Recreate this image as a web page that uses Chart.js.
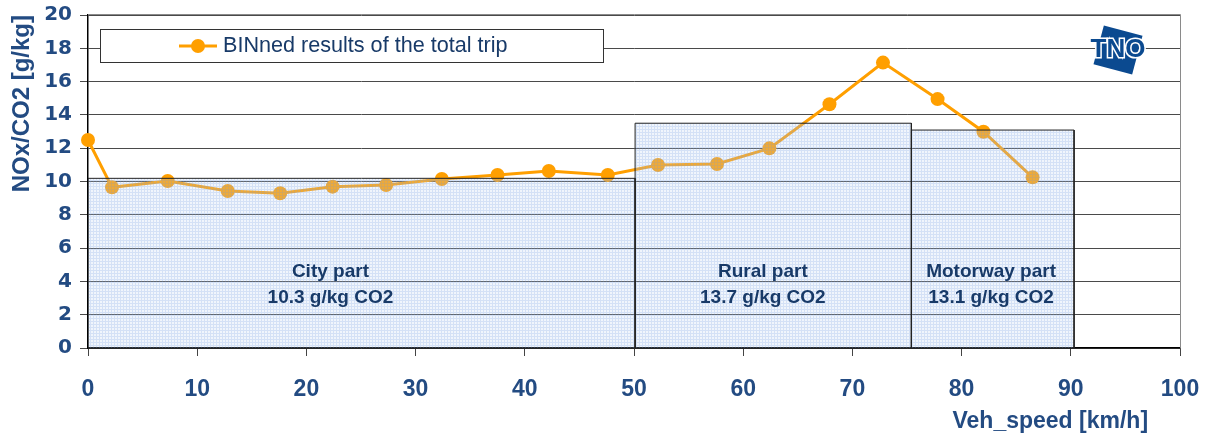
<!DOCTYPE html>
<html>
<head>
<meta charset="utf-8">
<script src="https://cdn.jsdelivr.net/npm/chart.js@4"></script>
<style>
  html, body { margin: 0; padding: 0; background: #fff; }
  #wrap { width: 1210px; height: 439px; }
</style>
</head>
<body>
<div id="wrap"><canvas id="chart" width="1210" height="439"></canvas></div>
<script>
// binned results of the total trip
const speeds = [0, 2.2, 7.3, 12.8, 17.6, 22.4, 27.3, 32.4, 37.5, 42.2, 47.6, 52.2, 57.6, 62.4, 67.9, 72.8, 77.8, 82.0, 86.5];
const noxPerCo2 = [12.49, 9.65, 10.03, 9.43, 9.29, 9.69, 9.79, 10.15, 10.39, 10.63, 10.39, 10.99, 11.05, 11.99, 14.64, 17.14, 14.95, 12.99, 10.25];

// trip parts (city / rural / motorway)
const partNames = ['City part', 'Rural part', 'Motorway part'];
const partLabels = ['10.3 g/kg CO2', '13.7 g/kg CO2', '13.1 g/kg CO2'];
const partStart = [0, 50.1, 75.4];
const partEnd = [50.1, 75.4, 90.3];
const partHeight = [10.19, 13.5, 13.09];

const textBlue = '#234b82';
const labelBlue = '#183a68';
const orange = '#ff9f00';

const canvas = document.getElementById('chart');
const ctx = canvas.getContext('2d');

// light blue grid fill for the part blocks
function makeGridPattern() {
    const c = document.createElement('canvas');
    c.width = 3; c.height = 3;
    const g = c.getContext('2d');
    g.fillStyle = 'rgba(185,208,242,0.22)';
    g.fillRect(0, 0, 3, 3);
    g.fillStyle = 'rgba(110,155,225,0.22)';
    g.fillRect(0, 0, 3, 1);
    g.fillRect(0, 1, 1, 2);
    return ctx.createPattern(c, 'repeat');
}
const gridFill = makeGridPattern();

const partDatasets = partNames.map((name, i) => ({
    type: 'line',
    label: name,
    data: [
        { x: partStart[i], y: 0 },
        { x: partStart[i], y: partHeight[i] },
        { x: partEnd[i], y: partHeight[i] },
        { x: partEnd[i], y: 0 }
    ],
    fill: 'origin',
    backgroundColor: gridFill,
    borderColor: '#222',
    borderWidth: 1,
    pointRadius: 0,
    tension: 0,
    order: 0
}));

// frame, legend, logo and part labels
const decorations = {
    id: 'decorations',
    beforeDatasetsDraw(chart) {
        const { ctx, chartArea } = chart;
        ctx.save();
        ctx.strokeStyle = '#8a8a8a';
        ctx.lineWidth = 1;
        ctx.beginPath();
        ctx.moveTo(chartArea.left, chartArea.top - 0.5);
        ctx.lineTo(chartArea.right + 0.5, chartArea.top - 0.5);
        ctx.lineTo(chartArea.right + 0.5, chartArea.bottom);
        ctx.stroke();
        ctx.restore();
    },
    afterDatasetsDraw(chart) {
        const { ctx } = chart;
        const xs = chart.scales.x, ys = chart.scales.y;
        ctx.save();

        // part labels
        const labelX = [22.2, 61.8, 82.7];
        ctx.fillStyle = labelBlue;
        ctx.font = 'bold 19px "Liberation Sans", Arial, sans-serif';
        ctx.textAlign = 'center';
        ctx.textBaseline = 'middle';
        partNames.forEach((name, i) => {
            const px = xs.getPixelForValue(labelX[i]);
            ctx.fillText(name, px, ys.getPixelForValue(4.56));
            ctx.fillText(partLabels[i], px, ys.getPixelForValue(3.0));
        });

        // legend box
        ctx.fillStyle = '#fff';
        ctx.fillRect(100, 29, 503, 33);
        ctx.strokeStyle = '#333';
        ctx.lineWidth = 1;
        ctx.strokeRect(100.5, 29.5, 503, 33);
        ctx.strokeStyle = orange;
        ctx.lineWidth = 3;
        ctx.beginPath();
        ctx.moveTo(179, 46);
        ctx.lineTo(217, 46);
        ctx.stroke();
        ctx.fillStyle = orange;
        ctx.beginPath();
        ctx.arc(198, 46, 7, 0, Math.PI * 2);
        ctx.fill();
        ctx.fillStyle = labelBlue;
        ctx.font = '21.6px "Liberation Sans", Arial, sans-serif';
        ctx.textAlign = 'left';
        ctx.fillText(chart.data.datasets[3].label, 223, 46);

        // TNO logo
        ctx.translate(1118, 50);
        ctx.rotate(15 * Math.PI / 180);
        ctx.fillStyle = '#0b4a90';
        ctx.fillRect(-20, -20, 40, 40);
        ctx.rotate(-15 * Math.PI / 180);
        ctx.font = 'bold 26px "Liberation Sans", Arial, sans-serif';
        ctx.textAlign = 'center';
        ctx.lineWidth = 3;
        ctx.strokeStyle = '#fff';
        ctx.strokeText('TNO', 0, 0);
        ctx.fillStyle = '#0b4a90';
        ctx.fillText('TNO', 0, 0);
        ctx.restore();
    }
};

new Chart(ctx, {
    data: {
        datasets: [
            ...partDatasets,
            {
                type: 'line',
                label: 'BINned results of the total trip',
                data: speeds.map((s, i) => ({ x: s, y: noxPerCo2[i] })),
                borderColor: orange,
                backgroundColor: orange,
                borderWidth: 3,
                pointRadius: 7,
                pointBorderWidth: 0,
                fill: false,
                tension: 0,
                clip: false,
                order: 1
            }
        ]
    },
    options: {
        responsive: false,
        animation: false,
        layout: { padding: { top: 15, right: 30, bottom: 0, left: 0 } },
        plugins: {
            legend: { display: false },
            tooltip: { enabled: false }
        },
        scales: {
            x: {
                type: 'linear',
                min: 0,
                max: 100,
                afterFit: (scale) => {
                    scale.height = 91;
                    scale.paddingRight = 20;
                },
                ticks: {
                    stepSize: 10,
                    color: textBlue,
                    padding: 20,
                    font: { family: '"Liberation Sans", Arial, sans-serif', size: 23, weight: 'bold' }
                },
                grid: { drawOnChartArea: false, tickLength: 8, color: '#444' },
                border: { color: '#000', width: 1.5 },
                title: {
                    display: true,
                    text: 'Veh_speed [km/h]     ',
                    align: 'end',
                    color: textBlue,
                    padding: { top: 0, bottom: 4 },
                    font: { family: '"Liberation Sans", Arial, sans-serif', size: 23, weight: 'bold' }
                }
            },
            y: {
                min: 0,
                max: 20,
                afterFit: (scale) => {
                    scale.width = 88;
                    scale.paddingTop = 10;
                },
                ticks: {
                    stepSize: 2,
                    color: textBlue,
                    padding: 8,
                    font: { family: '"DejaVu Sans", sans-serif', size: 20, weight: 'bold' }
                },
                grid: { color: '#4a4a4a', lineWidth: 1, tickLength: 8 },
                border: { color: '#000', width: 1.5 },
                title: {
                    display: true,
                    text: 'NOx/CO2 [g/kg]',
                    align: 'end',
                    color: textBlue,
                    padding: { top: 8, bottom: 0 },
                    font: { family: '"Liberation Sans", Arial, sans-serif', size: 24, weight: 'bold' }
                }
            }
        }
    },
    plugins: [decorations]
});
</script>
</body>
</html>
